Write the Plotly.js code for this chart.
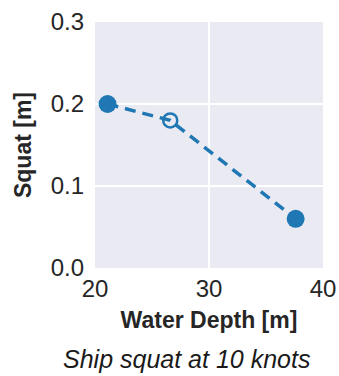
<!DOCTYPE html>
<html><head><meta charset="utf-8">
<script src="https://cdn.plot.ly/plotly-3.0.1.min.js"></script>
<style>html,body{margin:0;padding:0;background:#fff}#c{width:339px;height:376px}</style>
</head><body><div id="c"></div>
<script>
const depth = [21.1, 26.6, 37.6];
const squat = [0.20, 0.18, 0.06];
const filledDepth = [21.1, 37.6];
const filledSquat = [0.20, 0.06];
const openDepth = [26.6];
const openSquat = [0.18];
const xTicks = [20, 30, 40];
const yTicks = [0, 0.1, 0.2, 0.3];
const yTickText = ['0.0', '0.1', '0.2', '0.3'];
const blue = '#1f77b4';
const data = [
  {x: depth, y: squat, mode: 'lines', line: {color: blue, width: 3.5, dash: '11px,7px'}, hoverinfo: 'skip'},
  {x: filledDepth, y: filledSquat, mode: 'markers', marker: {color: blue, size: 18}},
  {x: openDepth, y: openSquat, mode: 'markers', marker: {color: 'rgba(0,0,0,0)', size: 14, line: {color: blue, width: 2.5}}}
];
const font = {family: 'Liberation Sans, Arial, sans-serif', color: '#262626'};
const layout = {
  width: 339, height: 376, showlegend: false,
  margin: {l: 95, r: 16, t: 22, b: 108},
  paper_bgcolor: '#fff', plot_bgcolor: '#EAEAF2',
  font: font,
  xaxis: {range: [20, 40], tickvals: xTicks, ticktext: xTicks.map(String), showgrid: true, gridcolor: '#fff', gridwidth: 2,
    zeroline: false, showline: false, ticks: '', tickfont: {size: 24, color: '#262626'}, ticklabelstandoff: 4,
    title: {text: 'Water Depth [m]', font: {size: 23, color: '#262626', weight: 'bold'}, standoff: 10}},
  yaxis: {range: [0, 0.3], tickvals: yTicks, ticktext: yTickText, showgrid: true, gridcolor: '#fff', gridwidth: 2,
    zeroline: false, showline: false, ticks: '', tickfont: {size: 24, color: '#262626'}, ticklabelstandoff: 10,
    title: {text: 'Squat [m]', font: {size: 23, color: '#262626', weight: 'bold'}, standoff: 12}},
  annotations: [{text: '<i>Ship squat at 10 knots</i>', xref: 'paper', yref: 'paper', x: 0.4, y: -0.43, xanchor: 'center', yanchor: 'bottom',
    showarrow: false, borderpad: 0, font: {size: 25, color: '#1a1a1a'}}]
};
Plotly.newPlot('c', data, layout, {displayModeBar: false, staticPlot: true});
</script></body></html>
